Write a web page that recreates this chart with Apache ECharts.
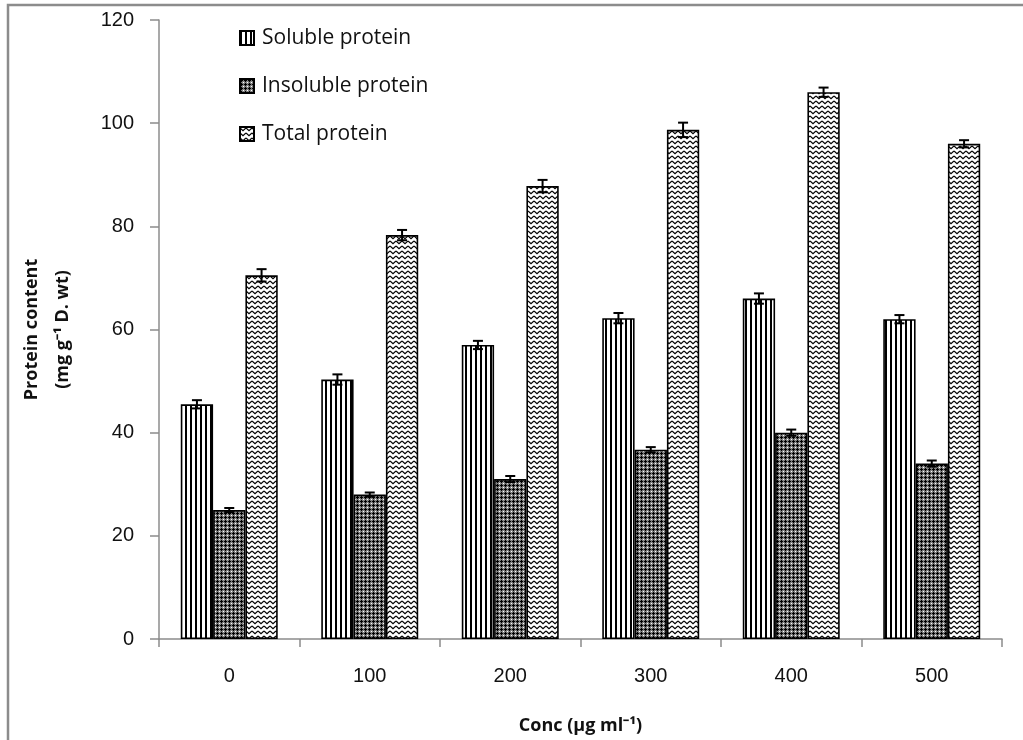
<!DOCTYPE html>
<html>
<head>
    <meta charset="utf-8">
    <title>Protein content</title>
    <script src="https://cdn.jsdelivr.net/npm/echarts@6/dist/echarts.min.js"></script>
    <style>
        html, body { margin: 0; padding: 0; background: #ffffff; }
        #chart { width: 1023px; height: 740px; }
    </style>
</head>
<body>
<div id="chart"></div>
<script>
    // data
    var concLabels = ['0', '100', '200', '300', '400', '500'];
    var soluble    = [45.5, 50.3, 57.0, 62.2, 66.0, 62.0];
    var insoluble  = [25.0, 28.0, 31.0, 36.7, 40.0, 34.0];
    var total      = [70.5, 78.3, 87.8, 98.7, 106.0, 96.0];
    var solubleErr   = [0.8, 1.0, 0.8, 1.0, 1.0, 0.8];
    var insolubleErr = [0.4, 0.4, 0.6, 0.5, 0.6, 0.6];
    var totalErr     = [1.2, 1.0, 1.2, 1.4, 0.9, 0.7];
    var yTicks = { min: 0, max: 120, interval: 20 };

    var catGap = 0.31;

    // hatch patterns
    function stripes() {
        var c = document.createElement('canvas');
        c.width = 5; c.height = 5;
        var g = c.getContext('2d');
        g.fillStyle = '#fff'; g.fillRect(0, 0, 5, 5);
        g.fillStyle = '#000'; g.fillRect(0, 0, 2, 5);
        return c;
    }
    function mesh() {
        var c = document.createElement('canvas');
        c.width = 4; c.height = 4;
        var g = c.getContext('2d');
        g.fillStyle = '#808080'; g.fillRect(0, 0, 4, 4);
        g.fillStyle = '#000000';
        g.fillRect(1, 0, 1, 3); g.fillRect(0, 1, 3, 1);
        g.fillStyle = '#ffffff';
        g.fillRect(3, 3, 1, 1);
        return c;
    }
    function zigzag() {
        var c = document.createElement('canvas');
        c.width = 6; c.height = 5;
        var g = c.getContext('2d');
        g.fillStyle = '#fff'; g.fillRect(0, 0, 6, 5);
        g.strokeStyle = '#000'; g.lineWidth = 1.2;
        g.beginPath();
        g.moveTo(0, 1); g.lineTo(3, 3.8); g.lineTo(6, 1);
        g.stroke();
        return c;
    }

    function barSeries(name, values, pattern) {
        return {
            name: name,
            type: 'bar',
            data: values,
            barGap: '0%',
            barCategoryGap: (catGap * 100) + '%',
            itemStyle: {
                color: { image: pattern, repeat: 'repeat' },
                borderColor: '#000',
                borderWidth: 1.6
            },
            emphasis: { disabled: true },
            z: 2
        };
    }

    function errSeries(name, values, errs, slot) {
        var rows = values.map(function (v, i) {
            return [i, v - errs[i], v + errs[i]];
        });
        return {
            name: name,
            type: 'custom',
            data: rows,
            encode: { x: 0, y: [1, 2] },
            z: 5,
            silent: true,
            renderItem: function (params, api) {
                var band = api.size([1, 0])[0];
                var bw = band * (1 - catGap) / 3;
                var lo = api.coord([api.value(0), api.value(1)]);
                var hi = api.coord([api.value(0), api.value(2)]);
                var x = lo[0] + slot * bw;
                var cap = 5;
                var st = { stroke: '#000', lineWidth: 2 };
                return {
                    type: 'group',
                    children: [
                        { type: 'line', shape: { x1: x, y1: lo[1], x2: x, y2: hi[1] }, style: st },
                        { type: 'line', shape: { x1: x - cap, y1: lo[1], x2: x + cap, y2: lo[1] }, style: st },
                        { type: 'line', shape: { x1: x - cap, y1: hi[1], x2: x + cap, y2: hi[1] }, style: st }
                    ]
                };
            }
        };
    }

    var chart = echarts.init(document.getElementById('chart'), null, { renderer: 'canvas' });

    var option = {
        backgroundColor: '#ffffff',
        animation: false,
        graphic: [{
            type: 'rect',
            shape: { x: 8, y: 5, width: 1200, height: 900 },
            style: { fill: 'none', stroke: '#8c8c8c', lineWidth: 2.5 },
            silent: true
        }],
        grid: { left: 159, right: 21, top: 20, bottom: 100 },
        legend: {
            data: ['Soluble protein', 'Insoluble protein', 'Total protein'],
            orient: 'vertical',
            left: 234,
            top: 21,
            itemWidth: 14,
            itemHeight: 14,
            itemGap: 24,
            icon: 'rect',
            selectedMode: false,
            textStyle: { fontFamily: 'Open Sans', fontSize: 21, color: '#111', padding: [0, 0, 0, 3], lineHeight: 24 }
        },
        xAxis: {
            type: 'category',
            data: concLabels,
            name: 'Conc (µg ml⁻¹)',
            nameLocation: 'middle',
            nameGap: 78,
            nameTextStyle: { fontFamily: 'Open Sans', fontWeight: 'bold', fontSize: 18, color: '#111' },
            axisLine: { lineStyle: { color: '#8c8c8c', width: 1.5 } },
            axisTick: { show: true, length: 8, alignWithLabel: false, lineStyle: { color: '#8c8c8c', width: 1.5 } },
            axisLabel: { fontFamily: 'Liberation Sans', fontSize: 20, color: '#111', margin: 27 }
        },
        yAxis: {
            type: 'value',
            min: yTicks.min,
            max: yTicks.max,
            interval: yTicks.interval,
            name: '{t|Protein content}\n{t|(mg g⁻¹ D. wt)}',
            nameLocation: 'middle',
            nameRotate: 90,
            nameGap: 81,
            nameTextStyle: {
                rich: { t: { fontFamily: 'Open Sans', fontWeight: 'bold', fontSize: 18, color: '#111', lineHeight: 31 } }
            },
            splitLine: { show: false },
            axisLine: { show: true, lineStyle: { color: '#8c8c8c', width: 1.5 } },
            axisTick: { show: true, length: 9, lineStyle: { color: '#8c8c8c', width: 1.5 } },
            axisLabel: { fontFamily: 'Liberation Sans', fontSize: 20, color: '#111', margin: 25 }
        },
        series: [
            barSeries('Soluble protein', soluble, stripes()),
            barSeries('Insoluble protein', insoluble, mesh()),
            barSeries('Total protein', total, zigzag()),
            errSeries('err-soluble', soluble, solubleErr, -1),
            errSeries('err-insoluble', insoluble, insolubleErr, 0),
            errSeries('err-total', total, totalErr, 1)
        ]
    };
    chart.setOption(option);

    window.onresize = function () {
        chart.resize();
    };
</script>
</body>
</html>
